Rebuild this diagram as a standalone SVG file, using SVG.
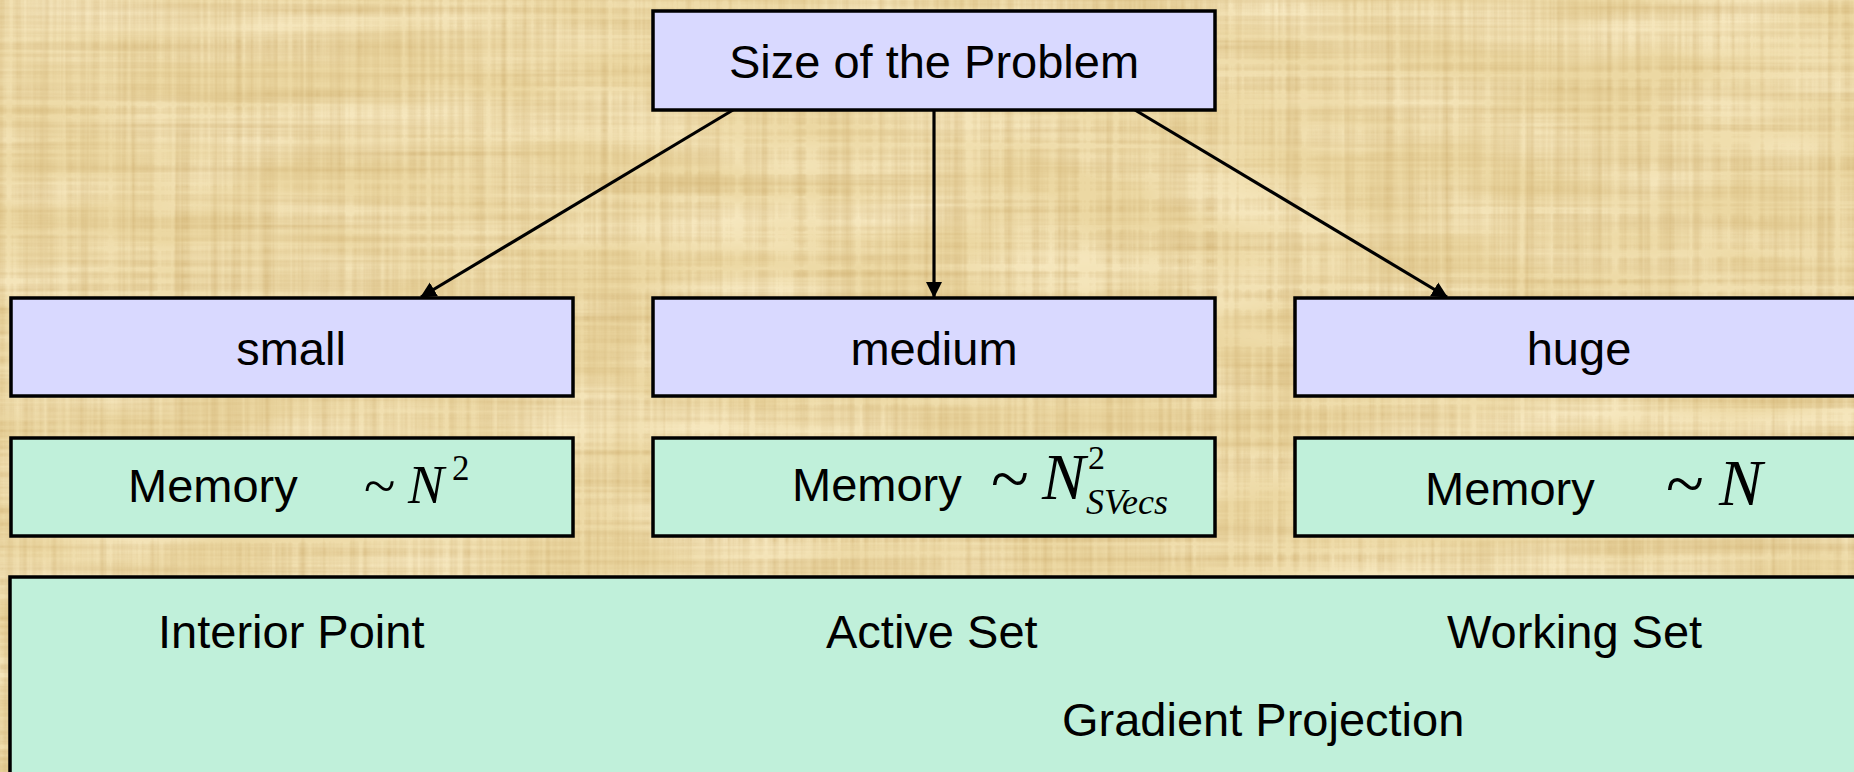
<svg xmlns="http://www.w3.org/2000/svg" width="1854" height="772" viewBox="0 0 1854 772">
  <defs>
    <style>
      .box { stroke: #000; stroke-width: 3.5; }
      .lav { fill: #D9D9FF; }
      .mint { fill: #C0F0DA; }
      .lbl { font-family: "Liberation Sans", Arial, sans-serif; font-size: 47px; fill: #000; }
      .mid { text-anchor: middle; }
      .math { font-family: "Liberation Serif", "Times New Roman", serif; fill: #000; }
      .it { font-style: italic; }
      .conn { stroke: #000; stroke-width: 3.2; fill: none; marker-end: url(#arrow); }
    </style>
    <marker id="arrow" viewBox="0 0 16 16" refX="15" refY="8" markerWidth="16" markerHeight="17" markerUnits="userSpaceOnUse" orient="auto">
      <path d="M0,0 L16,8 L0,16 z" fill="#000"/>
    </marker>
    <!-- woven papyrus grain: horizontal and vertical fibre noise -->
    <filter id="papyrus" x="0" y="0" width="100%" height="100%" color-interpolation-filters="sRGB">
      <feTurbulence type="fractalNoise" baseFrequency="0.002 0.14" numOctaves="3" seed="3" result="h"/>
      <feTurbulence type="fractalNoise" baseFrequency="0.14 0.002" numOctaves="3" seed="11" result="v"/>
      <feComposite in="h" in2="v" operator="arithmetic" k2="0.5" k3="0.5" result="n"/>
      <feColorMatrix in="n" type="matrix" values="0 0 0 0 0.72  0 0 0 0 0.56  0 0 0 0 0.28  0.9 0 0 0 -0.34"/>
    </filter>
    <filter id="papyrusLight" x="0" y="0" width="100%" height="100%" color-interpolation-filters="sRGB">
      <feTurbulence type="fractalNoise" baseFrequency="0.006 0.02" numOctaves="2" seed="5" result="n"/>
      <feColorMatrix in="n" type="matrix" values="0 0 0 0 1  0 0 0 0 0.96  0 0 0 0 0.84  1.2 0 0 0 -0.42"/>
    </filter>
  </defs>

  <!-- background -->
  <rect x="0" y="0" width="1854" height="772" fill="#ECD8A3"/>
  <rect x="0" y="0" width="1854" height="772" filter="url(#papyrusLight)"/>
  <rect x="0" y="0" width="1854" height="772" filter="url(#papyrus)"/>

  <g id="connectors">
    <line class="conn" x1="733" y1="110" x2="421" y2="297"/>
    <line class="conn" x1="934" y1="110" x2="934" y2="297"/>
    <line class="conn" x1="1135" y1="110" x2="1447" y2="297"/>
  </g>

  <g id="size">
    <rect class="box lav" x="653" y="11" width="562" height="99"/>
    <text class="lbl mid" x="934" y="78">Size of the Problem</text>
  </g>

  <g id="small">
    <rect class="box lav" x="11" y="298" width="562" height="98"/>
    <text class="lbl mid" x="291" y="365">small</text>
  </g>

  <g id="medium">
    <rect class="box lav" x="653" y="298" width="562" height="98"/>
    <text class="lbl mid" x="934" y="365">medium</text>
  </g>

  <g id="huge">
    <rect class="box lav" x="1295" y="298" width="575" height="98"/>
    <text class="lbl mid" x="1579" y="365">huge</text>
  </g>

  <g id="memory-small">
    <rect class="box mint" x="11" y="438" width="562" height="98"/>
    <text class="lbl" x="128" y="502">Memory</text>
    <text class="math" x="364" y="505" font-size="58">~</text>
    <text class="math it" x="408" y="503" font-size="54">N</text>
    <text class="math" x="452" y="480" font-size="35">2</text>
  </g>

  <g id="memory-medium">
    <rect class="box mint" x="653" y="438" width="562" height="98"/>
    <text class="lbl" x="792" y="501">Memory</text>
    <text class="math" x="991" y="502" font-size="70">~</text>
    <text class="math it" x="1042" y="499" font-size="65">N</text>
    <text class="math" x="1088" y="469" font-size="34">2</text>
    <text class="math it" x="1086" y="514" font-size="36">SVecs</text>
  </g>

  <g id="memory-huge">
    <rect class="box mint" x="1295" y="438" width="575" height="98"/>
    <text class="lbl" x="1425" y="505">Memory</text>
    <text class="math" x="1666" y="507" font-size="70">~</text>
    <text class="math it" x="1719" y="505" font-size="65">N</text>
  </g>

  <g id="methods">
    <rect class="box mint" x="10" y="577" width="1870" height="220"/>
    <text class="lbl" x="158" y="648">Interior Point</text>
    <text class="lbl" x="826" y="648">Active Set</text>
    <text class="lbl" x="1447" y="648">Working Set</text>
    <text class="lbl" x="1062" y="736">Gradient Projection</text>
  </g>
</svg>
